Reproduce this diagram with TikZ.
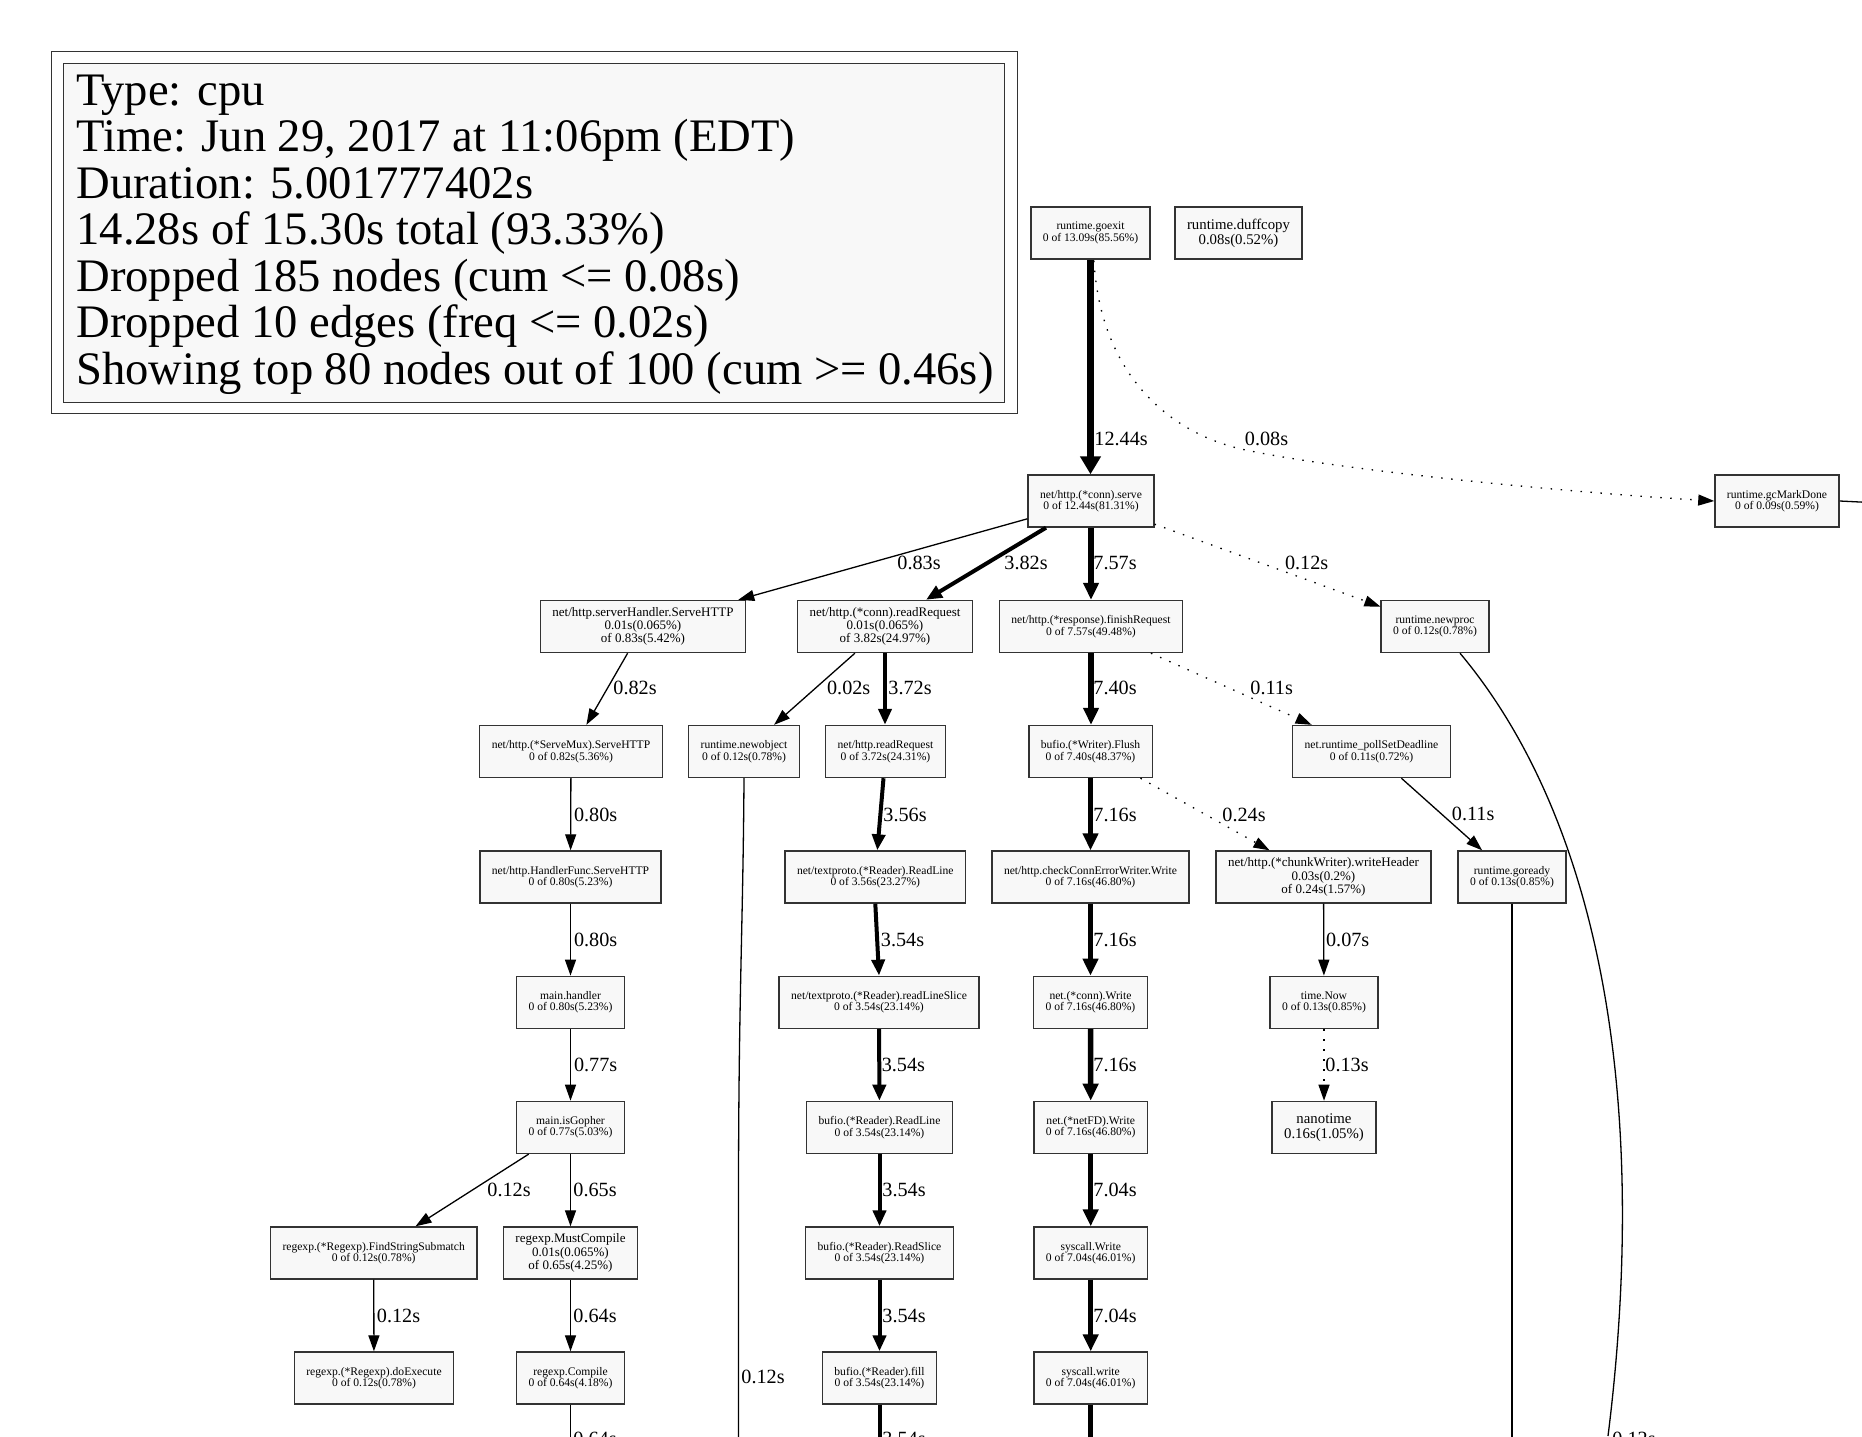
\documentclass[tikz,border=0pt]{standalone}
\usepackage{fontspec}
\setmainfont{Liberation Serif}
\usetikzlibrary{arrows.meta,calc}
\definecolor{nodefill}{HTML}{F8F8F8}
\begin{document}
\begin{tikzpicture}[x=0.5pt,y=-0.5pt,
  nbase/.style={draw=black!80, line width=0.7pt, fill=nodefill, inner xsep=6pt, inner ysep=0pt, minimum height=26pt, align=center},
  nA/.style={nbase, font=\fontsize{5.8pt}{5.75pt}\selectfont},
  nB/.style={nbase, font=\fontsize{6.5pt}{6.65pt}\selectfont},
  nC/.style={nbase, font=\fontsize{7.4pt}{7.5pt}\selectfont},
  lbl/.style={inner sep=0pt, anchor=west, font=\fontsize{10.1pt}{12pt}\selectfont},
  legtxt/.style={inner sep=0pt, anchor=base west, font=\fontsize{23.3pt}{23.4pt}\selectfont},
  ethin/.style={line width=0.65pt, -{Triangle[length=8pt,width=5.5pt]}},
  edot/.style={ethin, dash pattern=on 0.75pt off 4.25pt},
  emed/.style={line width=2pt, -{Triangle[length=8pt,width=6.5pt]}},
  ethk/.style={line width=2.75pt, -{Triangle[length=8.5pt,width=7.5pt]}},
  exth/.style={line width=3.25pt, -{Triangle[length=9pt,width=10pt]}},
  plain/.style={line width=0.65pt},
]
\useasboundingbox (0,0) rectangle (1862,1436);
\fill[white] (0,0) rectangle (1862,1436);
\clip (0,0) rectangle (1862,1436);

% legend
\node[draw=black!80, line width=0.65pt, minimum width=482.95pt, minimum height=180.8pt, inner sep=0pt] (legout) at (534.35,232.5) {};
\node[draw=black!80, line width=0.65pt, fill=nodefill, minimum width=470.6pt, minimum height=169.5pt, inner sep=0pt] (legin) at (534,232.8) {};
\node[legtxt] (leg1) at (76,105) {Type: cpu};
\node[legtxt] (leg2) at (76,151.5) {Time: Jun 29, 2017 at 11:06pm (EDT)};
\node[legtxt] (leg3) at (76,198) {Duration: 5.001777402s};
\node[legtxt] (leg4) at (76,244.5) {14.28s of 15.30s total (93.33\%)};
\node[legtxt] (leg5) at (76,291) {Dropped 185 nodes (cum <= 0.08s)};
\node[legtxt] (leg6) at (76,337.5) {Dropped 10 edges (freq <= 0.02s)};
\node[legtxt] (leg7) at (76,384) {Showing top 80 nodes out of 100 (cum >= 0.46s)};

% nodes
\node[nA] (goexit) at (1090.5,233) {runtime.goexit\\0 of 13.09s(85.56\%)};
\node[nC] (duff) at (1238.5,233) {runtime.duffcopy\\0.08s(0.52\%)};
\node[nA] (serve) at (1091,501) {net/http.(*conn).serve\\0 of 12.44s(81.31\%)};
\node[nA] (gc) at (1777,501) {runtime.gcMarkDone\\0 of 0.09s(0.59\%)};

\node[nB] (sh) at (643,626.5) {net/http.serverHandler.ServeHTTP\\0.01s(0.065\%)\\of 0.83s(5.42\%)};
\node[nB] (rr) at (885,626.5) {net/http.(*conn).readRequest\\0.01s(0.065\%)\\of 3.82s(24.97\%)};
\node[nA] (fr) at (1091,626.5) {net/http.(*response).finishRequest\\0 of 7.57s(49.48\%)};
\node[nA] (np) at (1435,626.5) {runtime.newproc\\0 of 0.12s(0.78\%)};

\node[nA] (sm) at (571,751.5) {net/http.(*ServeMux).ServeHTTP\\0 of 0.82s(5.36\%)};
\node[nA] (no) at (744,751.5) {runtime.newobject\\0 of 0.12s(0.78\%)};
\node[nA] (nrr) at (885.5,751.5) {net/http.readRequest\\0 of 3.72s(24.31\%)};
\node[nA] (fl) at (1090.5,751.5) {bufio.(*Writer).Flush\\0 of 7.40s(48.37\%)};
\node[nA] (psd) at (1371.5,751.5) {net.runtime\_pollSetDeadline\\0 of 0.11s(0.72\%)};

\node[nA] (hf) at (570.5,877) {net/http.HandlerFunc.ServeHTTP\\0 of 0.80s(5.23\%)};
\node[nA] (tprl) at (875.3,877) {net/textproto.(*Reader).ReadLine\\0 of 3.56s(23.27\%)};
\node[nA] (cw) at (1090.5,877) {net/http.checkConnErrorWriter.Write\\0 of 7.16s(46.80\%)};
\node[nB] (chw) at (1323.5,877) {net/http.(*chunkWriter).writeHeader\\0.03s(0.2\%)\\of 0.24s(1.57\%)};
\node[nA] (gr) at (1512,877) {runtime.goready\\0 of 0.13s(0.85\%)};

\node[nA] (mh) at (570.5,1002.3) {main.handler\\0 of 0.80s(5.23\%)};
\node[nA] (rls) at (879,1002.3) {net/textproto.(*Reader).readLineSlice\\0 of 3.54s(23.14\%)};
\node[nA] (cwr) at (1090.5,1002.3) {net.(*conn).Write\\0 of 7.16s(46.80\%)};
\node[nA] (tn) at (1324,1002.3) {time.Now\\0 of 0.13s(0.85\%)};

\node[nA] (ig) at (570.5,1127.4) {main.isGopher\\0 of 0.77s(5.03\%)};
\node[nA] (brl) at (879.5,1127.4) {bufio.(*Reader).ReadLine\\0 of 3.54s(23.14\%)};
\node[nA] (nfd) at (1090.7,1127.4) {net.(*netFD).Write\\0 of 7.16s(46.80\%)};
\node[nC] (nt) at (1324,1127.4) {nanotime\\0.16s(1.05\%)};

\node[nA] (fss) at (373.7,1253) {regexp.(*Regexp).FindStringSubmatch\\0 of 0.12s(0.78\%)};
\node[nB] (mc) at (570.5,1253) {regexp.MustCompile\\0.01s(0.065\%)\\of 0.65s(4.25\%)};
\node[nA] (brs) at (879.5,1253) {bufio.(*Reader).ReadSlice\\0 of 3.54s(23.14\%)};
\node[nA] (sw) at (1090.7,1253) {syscall.Write\\0 of 7.04s(46.01\%)};

\node[nA] (dx) at (374,1378) {regexp.(*Regexp).doExecute\\0 of 0.12s(0.78\%)};
\node[nA] (rc) at (570.5,1378) {regexp.Compile\\0 of 0.64s(4.18\%)};
\node[nA] (bf) at (879.5,1378) {bufio.(*Reader).fill\\0 of 3.54s(23.14\%)};
\node[nA] (sw2) at (1090.7,1378) {syscall.write\\0 of 7.04s(46.01\%)};

\coordinate (gcbend) at (1245.6,450);
\coordinate (npend) at (1608,1436);

% edges
\draw[exth] (goexit.south) -- (goexit.south |- serve.north);
\draw[edot] ($(goexit.south)+(3.5,1)$) .. controls +(6,110) and +(-80,-17) .. (gcbend) .. controls +(100,21) and +(-150,-9) .. (gc.west);
\draw[ethin] (serve) -- (sh);
\draw[emed] ($(serve.south)+(-45,0)$) -- ($(rr.north)+(41,0)$);
\draw[ethk] (serve.south) -- (serve.south |- fr.north);
\draw[edot] (serve) -- (np);
\draw[ethin] (sh) -- (sm);
\draw[ethin] (rr) -- (no);
\draw[emed] (rr.south) -- (rr.south |- nrr.north);
\draw[ethk] (fr.south) -- (fr.south |- fl.north);
\draw[edot] (fr) -- (psd);
\draw[plain] ($(np.south)+(25,0)$) .. controls +(140,167) and +(42,-336) .. (npend);
\draw[ethin] (sm) -- (hf);
\draw[emed] ($(nrr.south)+(-2,0)$) -- ($(tprl.north)+(2,0)$);
\draw[ethk] (fl.south) -- (fl.south |- cw.north);
\draw[edot] ($(fl.south)+(50,0)$) -- ($(chw.north)+(-54,0)$);
\draw[ethin] (psd) -- (gr);
\draw[ethin] (hf) -- (mh);
\draw[emed] (tprl.south) -- (rls.north);
\draw[ethk] (cw) -- (cwr);
\draw[ethin] (chw) -- (tn);
\draw[plain] (gr.south) -- ++(0,600);
\draw[ethin] (mh) -- (ig);
\draw[emed] (rls) -- (brl);
\draw[ethk] (cwr) -- (nfd);
\draw[edot] (tn) -- (nt);
\draw[ethin] (ig) -- (fss);
\draw[ethin] (ig) -- (mc);
\draw[emed] (brl) -- (brs);
\draw[ethk] (nfd) -- (sw);
\draw[ethin] (fss) -- (dx);
\draw[ethin] (mc) -- (rc);
\draw[emed] (brs) -- (bf);
\draw[ethk] (sw) -- (sw2);
\draw[plain] (rc.south) -- ++(0,60);
\draw[line width=2pt] (bf.south) -- ++(0,60);
\draw[line width=2.75pt] (sw2.south) -- ++(0,60);
\draw[plain] (no.south) .. controls +(-1,150) and +(0,-200) .. ++(-5.5,420) -- ++(0,300);
\draw[plain] (gc.east) -- ++(40,2);

% edge labels
\node[lbl] (l1) at (1094,438.5) {12.44s};
\node[lbl] (l2) at (1244.5,438.5) {0.08s};
\node[lbl] (l3) at (897,563) {0.83s};
\node[lbl] (l4) at (1004,563) {3.82s};
\node[lbl] (l5) at (1093,563) {7.57s};
\node[lbl] (l6) at (1284.6,563) {0.12s};
\node[lbl] (l7) at (613,688.3) {0.82s};
\node[lbl] (l8) at (826.7,688.3) {0.02s};
\node[lbl] (l9) at (888,688.3) {3.72s};
\node[lbl] (l10) at (1093,688.3) {7.40s};
\node[lbl] (l11) at (1250,688.3) {0.11s};
\node[lbl] (l12) at (573.6,815) {0.80s};
\node[lbl] (l13) at (883,815) {3.56s};
\node[lbl] (l14) at (1093,815) {7.16s};
\node[lbl] (l15) at (1222,815) {0.24s};
\node[lbl] (l16) at (1451.5,814) {0.11s};
\node[lbl] (l17) at (573.6,940) {0.80s};
\node[lbl] (l18) at (880.5,940) {3.54s};
\node[lbl] (l19) at (1093,940) {7.16s};
\node[lbl] (l20) at (1325.7,940) {0.07s};
\node[lbl] (l21) at (573.6,1065) {0.77s};
\node[lbl] (l22) at (881.4,1065) {3.54s};
\node[lbl] (l23) at (1093,1065) {7.16s};
\node[lbl] (l24) at (1325,1065) {0.13s};
\node[lbl] (l25) at (487,1190) {0.12s};
\node[lbl] (l26) at (573,1190) {0.65s};
\node[lbl] (l27) at (882,1190) {3.54s};
\node[lbl] (l28) at (1093,1190) {7.04s};
\node[lbl] (l29) at (376.5,1315.5) {0.12s};
\node[lbl] (l30) at (573,1315.5) {0.64s};
\node[lbl] (l31) at (882,1315.5) {3.54s};
\node[lbl] (l32) at (1093,1315.5) {7.04s};
\node[lbl] (l33) at (741,1377) {0.12s};
\node[lbl] (l34) at (573,1439) {0.64s};
\node[lbl] (l35) at (882,1439) {3.54s};
\node[lbl] (l36) at (1612,1439) {0.12s};
\end{tikzpicture}
\end{document}
